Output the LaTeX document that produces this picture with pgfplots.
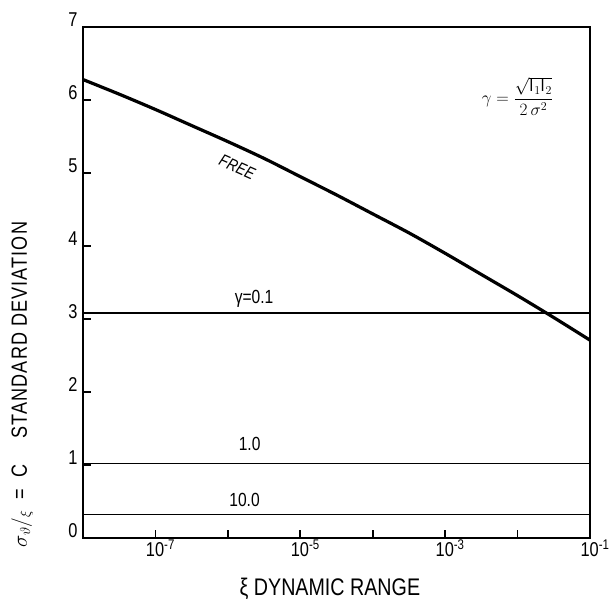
\documentclass[border=0pt]{standalone}
\usepackage{fontspec}
\setmainfont{Liberation Sans}[FakeStretch=0.82]
\usepackage{pgfplots}
\pgfplotsset{compat=1.18}
\begin{document}
\begin{tikzpicture}
\useasboundingbox (-83pt,-74pt) rectangle (529pt,538pt);
\begin{axis}[
  at={(0,0)}, anchor=south west,
  scale only axis, width=507pt, height=511pt,
  xmode=log, xmin=1e-8, xmax=1e-1, ymin=0, ymax=7,
  axis line style={line width=2.6pt},
  xtick={1e-7,1e-6,1e-5,1e-4,1e-3,1e-2,1e-1},
  xticklabels={10\textsuperscript{-7},{},10\textsuperscript{-5},{},10\textsuperscript{-3},{},10\textsuperscript{-1}},
  xminorticks=false,
  ytick={0,1,2,3,4,5,6,7},
  tick align=inside, xtick pos=bottom, ytick pos=left,
  major tick length=8pt,
  tick style={line width=1.6pt,black},
  ticklabel style={font=\fontsize{20}{20}\selectfont},
  yticklabel style={yshift=7pt, xshift=-2pt},
  xticklabel style={xshift=5pt, yshift=2pt},
  /pgf/number format/assume math mode=true,
  clip=false,
]
% FREE curve
\addplot[black, line width=3.2pt, smooth] coordinates {
 (1e-8,6.28) (3.16e-8,6.08) (1e-7,5.87) (3.16e-7,5.65) (1e-6,5.43)
 (3.16e-6,5.20) (1e-5,4.95) (3.16e-5,4.70) (1e-4,4.44) (3.16e-4,4.18)
 (1e-3,3.90) (3.16e-3,3.61) (1e-2,3.32) (3.16e-2,3.02) (1e-1,2.71)};
% gamma = 0.1
\addplot[black, line width=1.6pt] coordinates {(1e-8,3.08) (1e-1,3.08)};
% gamma = 1.0
\addplot[black, line width=1.6pt] coordinates {(1e-8,1.02) (1e-1,1.02)};
% gamma = 10.0
\addplot[black, line width=1.6pt] coordinates {(1e-8,0.32) (1e-1,0.32)};

\node[font=\fontsize{19}{19}\selectfont] at (axis cs:2.3e-6,3.28) {γ=0.1};
\node[font=\fontsize{19}{19}\selectfont] at (axis cs:2.0e-6,1.29) {1.0};
\node[font=\fontsize{19}{19}\selectfont] at (axis cs:1.7e-6,0.52) {10.0};
\node[font=\fontsize{17}{17}\selectfont\itshape, rotate=-24] at (axis cs:1.35e-6,5.08) {FREE};
\node[font=\fontsize{18}{18}\selectfont] at (axis cs:1.0e-2,6.05) {$\gamma = \displaystyle\frac{\sqrt{\mathrm{I}_1 \mathrm{I}_2}}{2\,\sigma^2}$};

\node[rotate=90, anchor=center, font=\fontsize{22}{22}\selectfont] at (rel axis cs:-0.12,0.30)
  {$\sigma_{\vartheta}/_{\xi}$\enspace=\enspace C\hspace{1.2em}{\addfontfeatures{LetterSpace=5}STANDARD DEVIATION}};
\node[font=\fontsize{24}{24}\selectfont] at (rel axis cs:0.487,-0.10) {ξ DYNAMIC RANGE};
\end{axis}
\end{tikzpicture}
\end{document}
